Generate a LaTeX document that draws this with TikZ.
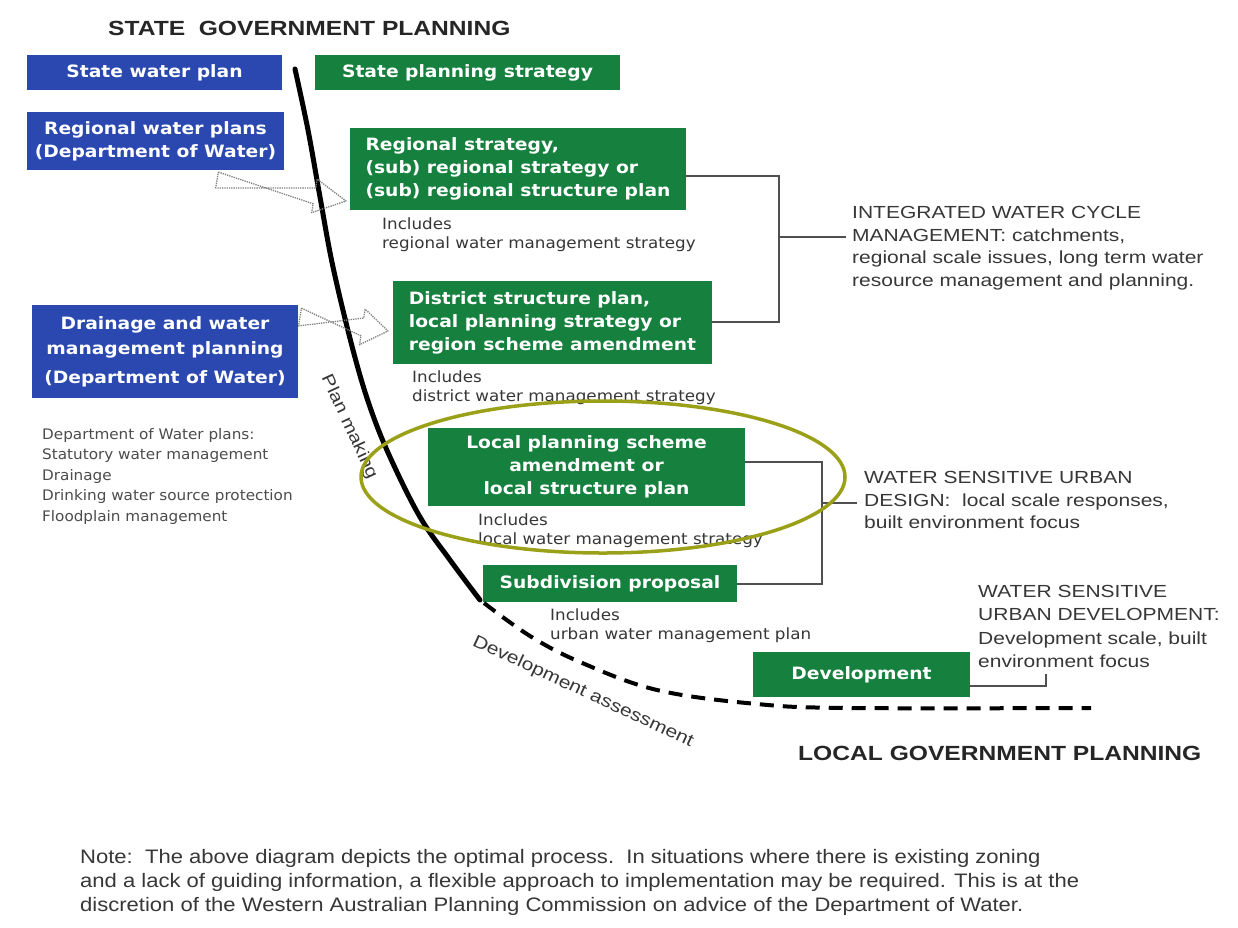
\documentclass[tikz,border=0pt]{standalone}
\usepackage{fontspec}
\setmainfont{Liberation Sans}
\newfontfamily\vfont{DejaVu Sans}[FakeStretch=1.08]
\newfontfamily\vbfont{DejaVu Sans}[FakeStretch=1.1]
\newfontfamily\lfont{DejaVu Sans}[FakeStretch=1.05]
\newfontfamily\rfont{Liberation Sans}[FakeStretch=1.2]
\newfontfamily\hfont{Liberation Sans}[FakeStretch=1.2]
\newfontfamily\nfont{Liberation Sans}[FakeStretch=1.13]
\usetikzlibrary{calc}
\definecolor{boxblue}{RGB}{42,72,176}
\definecolor{boxgreen}{RGB}{22,128,62}
\definecolor{ellolive}{RGB}{155,160,25}
\definecolor{txtgray}{RGB}{55,55,55}
\definecolor{brkgray}{RGB}{80,80,80}
\begin{document}
\begin{tikzpicture}[x=1pt,y=-1pt,
  box/.style={draw=none, inner sep=0pt, font=\vbfont\bfseries\fontsize{17}{23}\selectfont, text=white, align=center},
  bluebox/.style={box, fill=boxblue},
  greenbox/.style={box, fill=boxgreen},
  incl/.style={anchor=north west, inner sep=0pt, font=\vfont\fontsize{15.5}{19}\selectfont, text=txtgray, align=left},
  rtext/.style={anchor=north west, inner sep=0pt, font=\rfont\fontsize{17.5}{22.7}\selectfont, text=txtgray, align=left},
  heading/.style={inner sep=0pt, font=\hfont\bfseries\fontsize{20.5}{22}\selectfont, text=black!85},
  brk/.style={draw=brkgray, line width=1.5pt},
  hollow/.style={draw=gray, densely dotted, line width=1.3pt, line join=round},
  curvelabel/.style={inner sep=0pt, font=\rfont\fontsize{17}{20}\selectfont, text=txtgray}
]
\useasboundingbox (0,0) rectangle (1238,927);
\fill[white] (0,0) rectangle (1238,927);

% headings
\node[heading, anchor=west] (sgp) at (108,28) {STATE\ \ GOVERNMENT PLANNING};
\node[heading, anchor=west] (lgp) at (798,753) {LOCAL GOVERNMENT PLANNING};

% blue boxes
\node[bluebox, minimum width=255pt, minimum height=35pt] (swp) at (154.5,72.5) {State water plan};
\node[bluebox, minimum width=257pt, minimum height=58pt] (rwp) at (155.5,141) {Regional water plans\\(Department of Water)};
\node[bluebox, minimum width=266pt, minimum height=93pt, font=\vbfont\bfseries\fontsize{17}{25}\selectfont] (dwm) at (165,351.5) {Drainage and water\\management planning\\[4pt](Department of Water)};

% green boxes
\node[greenbox, minimum width=305pt, minimum height=35pt] (sps) at (467.5,72.5) {State planning strategy};
\node[greenbox, minimum width=336pt, minimum height=82pt, align=left] (rs) at (518,169) {Regional strategy,\\(sub) regional strategy or\\(sub) regional structure plan};
\node[greenbox, minimum width=319pt, minimum height=83pt, align=left] (dsp) at (552.5,322.5) {District structure plan,\\local planning strategy or\\region scheme amendment};
\node[greenbox, minimum width=317pt, minimum height=78pt] (lps) at (586.5,467) {Local planning scheme\\amendment or\\local structure plan};
\node[greenbox, minimum width=254pt, minimum height=37pt] (sub) at (610,583.5) {Subdivision proposal};
\node[greenbox, minimum width=217pt, minimum height=45pt] (dev) at (861.5,674.5) {Development};

% includes labels
\node[incl] (rsi) at (382,218) {Includes\\regional water management strategy};
\node[incl] (dspi) at (412,371) {Includes\\district water management strategy};
\node[incl] (lpsi) at (478,514) {Includes\\local water management strategy};
\node[incl] (subi) at (550,609) {Includes\\urban water management plan};

% department of water plans list
\node[incl, font=\lfont\fontsize{14.5}{20.5}\selectfont, text=black!70] (dow) at (42,428) {Department of Water plans:\\Statutory water management\\Drainage\\Drinking water source protection\\Floodplain management};

% right hand texts
\node[rtext] (iwcm) at (852,206) {INTEGRATED WATER CYCLE\\MANAGEMENT: catchments,\\regional scale issues, long term water\\resource management and planning.};
\node[rtext] (wsud) at (864,471) {WATER SENSITIVE URBAN\\DESIGN:\ \ local scale responses,\\built environment focus};
\node[rtext, font=\rfont\fontsize{17.5}{23.3}\selectfont] (wsudev) at (978,585) {WATER SENSITIVE\\URBAN DEVELOPMENT:\\Development scale, built\\environment focus};

% brackets
\coordinate (b1t) at (779,176);
\coordinate (b1b) at (779,322);
\coordinate (b1m) at (779,237);
\coordinate (b1e) at (846,237);
\draw[brk] (rs.east |- b1t) -- (b1t) -- (b1b) -- (dsp.east |- b1b);
\draw[brk] (b1m) -- (b1e);

\coordinate (b2t) at (822,462);
\coordinate (b2b) at (822,584);
\coordinate (b2m) at (822,503);
\coordinate (b2e) at (857,503);
\draw[brk] (lps.east |- b2t) -- (b2t) -- (b2b) -- (sub.east |- b2b);
\draw[brk] (b2m) -- (b2e);

\coordinate (b3c) at (1046,686);
\coordinate (b3e) at (1046,674);
\draw[brk] (dev.east |- b3c) -- (b3c) -- (b3e);

% plan making curve
\draw[line width=5pt, line cap=round] plot[smooth, tension=0.6] coordinates {(295,69) (308,130) (320,197) (333,267) (353,350) (370,407) (390,457) (420,517) (450,560) (480,600)};
% development assessment dashed curve
\draw[line width=4pt, dash pattern=on 14pt off 9pt] plot[smooth, tension=0.6] coordinates {(484,603) (530,636) (580,662) (657,690) (757,704) (850,708) (1091,708)};

\node[curvelabel, rotate=-65] (pm) at (349,427) {Plan making};
\node[curvelabel, rotate=-25, font=\rfont\fontsize{17.5}{20}\selectfont] (da) at (583,692) {Development assessment};

% highlight ellipse
\draw[ellolive, line width=3.5pt] (603,477) ellipse [x radius=242, y radius=76];

% hollow dotted arrows
\coordinate (a1s) at (217,180);
\coordinate (a1e) at (346,201);
\coordinate (a1h) at ($(a1e)!32pt!(a1s)$);
\draw[hollow] ($(a1s)!8pt!90:(a1e)$) -- ($(a1h)!8pt!-90:(a1e)$) -- ($(a1h)!17pt!-90:(a1e)$) -- (a1e)
  -- ($(a1h)!17pt!90:(a1e)$) -- ($(a1h)!8pt!90:(a1e)$) -- ($(a1s)!8pt!-90:(a1e)$) -- cycle;

\coordinate (a2s) at (300,317);
\coordinate (a2e) at (388,331);
\coordinate (a2h) at ($(a2e)!26pt!(a2s)$);
\draw[hollow] ($(a2s)!9pt!90:(a2e)$) -- ($(a2h)!9pt!-90:(a2e)$) -- ($(a2h)!18pt!-90:(a2e)$) -- (a2e)
  -- ($(a2h)!18pt!90:(a2e)$) -- ($(a2h)!9pt!90:(a2e)$) -- ($(a2s)!9pt!-90:(a2e)$) -- cycle;

% note
\node[anchor=north west, inner sep=0pt, align=left, font=\nfont\fontsize{19.5}{24}\selectfont, text=txtgray] (note) at (80,849)
 {Note:\ \ The above diagram depicts the optimal process.\ \ In situations where there is existing zoning\\and a lack of guiding information, a flexible approach to implementation may be required. This is at the\\discretion of the Western Australian Planning Commission on advice of the Department of Water.};
\end{tikzpicture}
\end{document}
